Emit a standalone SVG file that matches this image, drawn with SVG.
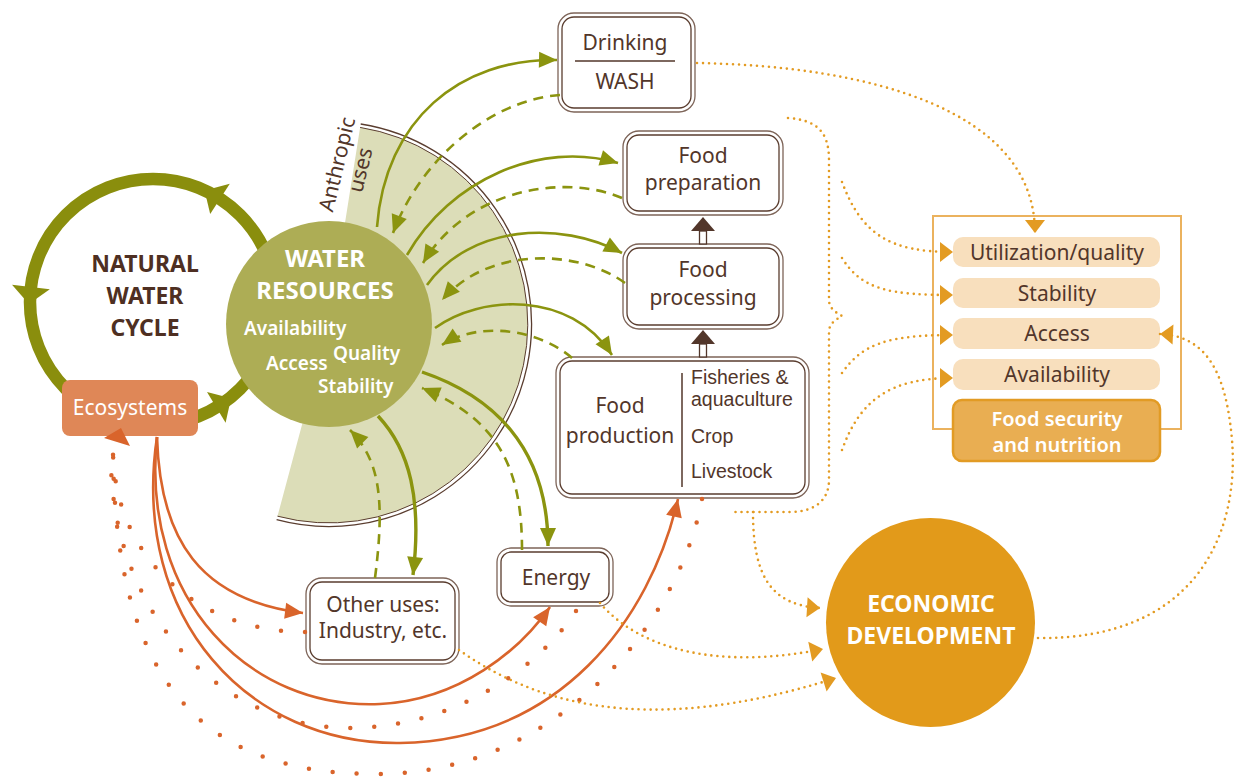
<svg xmlns="http://www.w3.org/2000/svg" width="1241" height="777" viewBox="0 0 1241 777">
  <style>
    text { font-family: 'Noto Sans', 'Open Sans', 'Liberation Sans', sans-serif; }
    .lbl { fill: #52362a; font-size: 21px; text-anchor: middle; }
    .lbl-s { fill: #52362a; font-size: 19.5px; font-family: 'Liberation Sans', Arial, sans-serif; }
    .box-o { fill: #fff; stroke: #7d6458; stroke-width: 1.3; }
    .box-i { fill: #fff; stroke: #5a3d2f; stroke-width: 1.3; }
    .green { fill: none; stroke: #8b940f; stroke-width: 2.6; }
    .green-thick { fill: none; stroke: #8b940f; stroke-width: 3.4; }
    .green-dash { fill: none; stroke: #8b940f; stroke-width: 2.6; stroke-dasharray: 10 7; }
    .orange { fill: none; stroke: #d9642b; stroke-width: 2.6; }
    .orange-dots { fill: none; stroke: #d9642b; stroke-width: 4.5; stroke-linecap: round; stroke-dasharray: 0 24; }
    .gold-dots { fill: none; stroke: #e39b22; stroke-width: 2.6; stroke-linecap: round; stroke-dasharray: 0 6; }
    .pill { fill: #f8dfbd; }
    .pill-t { fill: #52362a; font-size: 21px; text-anchor: middle; }
    .white-b { fill: #fff; font-weight: bold; text-anchor: middle; }
    .title { fill: #4e2f22; font-size: 23px; font-weight: bold; text-anchor: middle; }
  </style>
  <defs>
    <marker id="arrow-green" viewBox="-19 -9 20 18" refX="0" refY="0" markerWidth="20" markerHeight="18" markerUnits="userSpaceOnUse" orient="auto">
      <path d="M0,0 L-18,-8 L-18,8 Z" fill="#8b940f"/>
    </marker>
    <marker id="arrow-orange" viewBox="-19 -9 20 18" refX="0" refY="0" markerWidth="20" markerHeight="18" markerUnits="userSpaceOnUse" orient="auto">
      <path d="M0,0 L-18,-8 L-18,8 Z" fill="#d9642b"/>
    </marker>
    <marker id="arrow-gold" viewBox="-16 -11 17 22" refX="0" refY="0" markerWidth="17" markerHeight="22" markerUnits="userSpaceOnUse" orient="auto">
      <path d="M0,0 L-13,-10 L-13,10 Z" fill="#e39b22"/>
    </marker>
  </defs>

  <rect width="1241" height="777" fill="#fff"/>

  <!-- natural water cycle ring -->
  <g id="natural-water-cycle">
    <circle cx="153" cy="302" r="123" fill="none" stroke="#8a8e0d" stroke-width="12.5"/>
    <text x="145" y="272" class="title">NATURAL</text>
    <text x="145" y="304" class="title">WATER</text>
    <text x="145" y="336" class="title">CYCLE</text>
  </g>

  <!-- anthropic uses sector -->
  <g id="anthropic-uses">
    <path d="M329,324 L360.1,127.4 A199,199 0 1 1 277.5,516.2 Z" fill="#dcddb8"/>
    <path d="M360.1,127.4 A199,199 0 1 1 277.5,516.2" fill="none" stroke="#5a3d2f" stroke-width="1"/>
    <path d="M360.7,124 A202.5,202.5 0 1 1 276.6,519.6" fill="none" stroke="#5a3d2f" stroke-width="1.3"/>
    <g transform="translate(344,166) rotate(-76.5)">
      <text x="0" y="0" class="lbl">Anthropic</text>
      <text x="0" y="24" class="lbl">uses</text>
    </g>
  </g>

  <!-- water resources -->
  <g id="water-resources">
    <circle cx="329" cy="324" r="103" fill="#adad55"/>
    <text x="325" y="267" class="white-b" font-size="24">WATER</text>
    <text x="325" y="299" class="white-b" font-size="24">RESOURCES</text>
    <text x="244" y="335" fill="#fff" font-size="19" font-weight="600">Availability</text>
    <text x="333" y="360" fill="#fff" font-size="19" font-weight="600">Quality</text>
    <text x="266" y="370" fill="#fff" font-size="19" font-weight="600">Access</text>
    <text x="318" y="393" fill="#fff" font-size="19" font-weight="600">Stability</text>
  </g>

  <!-- ecosystems -->
  <g id="ecosystems">
    <rect x="62" y="380" width="136" height="56" rx="8" fill="#df8757"/>
    <text x="130" y="415" fill="#fff" font-size="21" text-anchor="middle">Ecosystems</text>
  </g>

  <!-- ring direction arrowheads -->
  <g id="cycle-arrowheads" fill="#8a8e0d">
    <polygon points="229.8,183.7 210.2,213.9 204.6,190.6"/>
    <polygon points="12,284.8 49.8,289.2 28.9,303.9"/>
    <polygon points="225.6,422.8 207,392 231,398.2"/>
  </g>

  <!-- use boxes -->
  <g id="drinking-wash">
    <rect x="558" y="13" width="137" height="99" rx="16" class="box-o"/>
    <rect x="562" y="17" width="129" height="91" rx="12" class="box-i"/>
    <text x="625" y="50" class="lbl">Drinking</text>
    <line x1="575" y1="61" x2="675" y2="61" stroke="#52362a" stroke-width="1.5"/>
    <text x="625" y="89" class="lbl">WASH</text>
  </g>
  <g id="food-preparation">
    <rect x="623" y="131" width="160" height="84" rx="16" class="box-o"/>
    <rect x="627" y="135" width="152" height="76" rx="12" class="box-i"/>
    <text x="703" y="163" class="lbl">Food</text>
    <text x="703" y="190" class="lbl">preparation</text>
  </g>
  <g id="food-processing">
    <rect x="623" y="244" width="160" height="85" rx="16" class="box-o"/>
    <rect x="627" y="248" width="152" height="77" rx="12" class="box-i"/>
    <text x="703" y="277" class="lbl">Food</text>
    <text x="703" y="305" class="lbl">processing</text>
  </g>
  <g id="food-production">
    <rect x="556" y="357" width="253" height="141" rx="16" class="box-o"/>
    <rect x="560" y="361" width="245" height="133" rx="12" class="box-i"/>
    <text x="620" y="413" class="lbl">Food</text>
    <text x="620" y="443" class="lbl">production</text>
    <line x1="682" y1="373" x2="682" y2="487" stroke="#52362a" stroke-width="1.5"/>
    <text x="691" y="384" class="lbl-s">Fisheries &amp;</text>
    <text x="691" y="406" class="lbl-s">aquaculture</text>
    <text x="691" y="443" class="lbl-s">Crop</text>
    <text x="691" y="478" class="lbl-s">Livestock</text>
  </g>
  <g id="energy">
    <rect x="497" y="548" width="116" height="58" rx="14" class="box-o"/>
    <rect x="501" y="552" width="108" height="50" rx="10" class="box-i"/>
    <text x="556" y="585" class="lbl">Energy</text>
  </g>
  <g id="other-uses">
    <rect x="306" y="578" width="153" height="86" rx="16" class="box-o"/>
    <rect x="310" y="582" width="145" height="78" rx="12" class="box-i"/>
    <text x="383" y="612" class="lbl">Other uses:</text>
    <text x="383" y="638" class="lbl">Industry, etc.</text>
  </g>

  <!-- food chain step arrows -->
  <g id="chain-arrows" stroke="#52362a" stroke-width="1.3">
    <rect x="699.5" y="231" width="7" height="13" fill="#fff"/>
    <polygon points="703,217 691,231 715,231" fill="#52362a" stroke="none"/>
    <rect x="699.5" y="344" width="7" height="13" fill="#fff"/>
    <polygon points="703,330 691,344 715,344" fill="#52362a" stroke="none"/>
  </g>

  <!-- food security and nutrition -->
  <g id="food-security">
    <rect x="933" y="216" width="248" height="213" fill="none" stroke="#ebb25e" stroke-width="2"/>
    <rect x="953" y="237" width="207" height="30" rx="10" class="pill"/>
    <text x="1057" y="260" class="pill-t">Utilization/quality</text>
    <rect x="953" y="278" width="207" height="30" rx="10" class="pill"/>
    <text x="1057" y="301" class="pill-t">Stability</text>
    <rect x="953" y="318" width="207" height="31" rx="10" class="pill"/>
    <text x="1057" y="341" class="pill-t">Access</text>
    <rect x="953" y="359" width="207" height="31" rx="10" class="pill"/>
    <text x="1057" y="382" class="pill-t">Availability</text>
    <rect x="953" y="400" width="207" height="61" rx="9" fill="#e9ae52" stroke="#e29b24" stroke-width="2.5"/>
    <text x="1057" y="426" fill="#fff" font-size="20" font-weight="600" text-anchor="middle">Food security</text>
    <text x="1057" y="452" fill="#fff" font-size="20" font-weight="600" text-anchor="middle">and nutrition</text>
  </g>

  <!-- economic development -->
  <g id="economic-development">
    <circle cx="930.5" cy="622.5" r="104.5" fill="#e29a1a"/>
    <text x="931" y="612" class="white-b" font-size="23">ECONOMIC</text>
    <text x="931" y="644" class="white-b" font-size="23">DEVELOPMENT</text>
  </g>

  <!-- connectors -->
  <g id="connectors">
    <!-- water withdrawals (solid) and returns (dashed) -->
    <path class="green" d="M377,227 C385,120 460,58 557,60" marker-end="url(#arrow-green)"/>
    <path class="green-dash" d="M560,95 C490,100 420,160 393,233" marker-end="url(#arrow-green)"/>
    <path class="green" d="M407,255 C450,180 540,140 618,163" marker-end="url(#arrow-green)"/>
    <path class="green-dash" d="M622,198 C570,175 470,185 423,263" marker-end="url(#arrow-green)"/>
    <path class="green" d="M427,285 C470,225 560,220 622,253" marker-end="url(#arrow-green)"/>
    <path class="green-dash" d="M625,283 C580,250 490,245 442,300" marker-end="url(#arrow-green)"/>
    <path class="green" d="M435,328 C480,295 570,290 612,355" marker-end="url(#arrow-green)"/>
    <path class="green-dash" d="M572,358 C540,330 480,320 442,345" marker-end="url(#arrow-green)"/>
    <path class="green-thick" d="M422,372 C490,395 548,445 548,546" marker-end="url(#arrow-green)"/>
    <path class="green-dash" d="M522,550 C522,470 500,420 422,388" marker-end="url(#arrow-green)"/>
    <path class="green-thick" d="M378,416 C410,450 422,500 413,575" marker-end="url(#arrow-green)"/>
    <path class="green-dash" d="M375,578 C385,500 380,460 350,430" marker-end="url(#arrow-green)"/>

    <!-- ecosystem services to uses -->
    <path class="orange" d="M157,437 C160,540 200,600 303,613" marker-end="url(#arrow-orange)"/>
    <path class="orange" d="M157,437 C140,600 250,710 380,704 C460,700 520,650 550,607" marker-end="url(#arrow-orange)"/>
    <path class="orange" d="M157,437 C130,620 250,745 400,743 C560,740 650,620 678,499" marker-end="url(#arrow-orange)"/>

    <!-- impacts back to ecosystems -->
    <path class="orange-dots" d="M305,632 C200,632 115,560 113,452"/>
    <path class="orange-dots" d="M576,611 C530,680 440,728 350,728 C210,728 108,600 111,452"/>
    <path class="orange-dots" d="M702,499 C680,620 560,774 376,774 C200,774 115,680 113,452"/>
    <polygon points="104,438 130,446 121,428" fill="#d9642b"/>

    <!-- links to food security dimensions -->
    <path class="gold-dots" d="M697,63 C870,66 1035,110 1035,233" marker-end="url(#arrow-gold)"/>
    <path class="gold-dots" d="M842,182 C862,235 890,252 953,252" marker-end="url(#arrow-gold)"/>
    <path class="gold-dots" d="M842,258 C862,290 890,295 953,295" marker-end="url(#arrow-gold)"/>
    <path class="gold-dots" d="M842,373 C862,345 885,335 953,335" marker-end="url(#arrow-gold)"/>
    <path class="gold-dots" d="M842,450 C860,400 890,378 953,378" marker-end="url(#arrow-gold)"/>

    <!-- brace grouping the food system -->
    <path class="gold-dots" d="M788,118 C815,120 829,130 829,160 L829,300 C829,308 835,312 842,316 C835,320 829,324 829,332 L829,480 C829,500 815,512 790,512 L733,512"/>
    <path class="gold-dots" d="M753,512 C753,575 770,605 820,608" marker-end="url(#arrow-gold)"/>

    <!-- links to economic development -->
    <path class="gold-dots" d="M600,603 C640,650 720,670 823,649" marker-end="url(#arrow-gold)"/>
    <path class="gold-dots" d="M459,650 C530,700 640,740 836,678" marker-end="url(#arrow-gold)"/>
    <path class="gold-dots" d="M1038,638 C1190,640 1240,540 1232,440 C1226,370 1205,336 1160,334" marker-end="url(#arrow-gold)"/>
  </g>
</svg>
